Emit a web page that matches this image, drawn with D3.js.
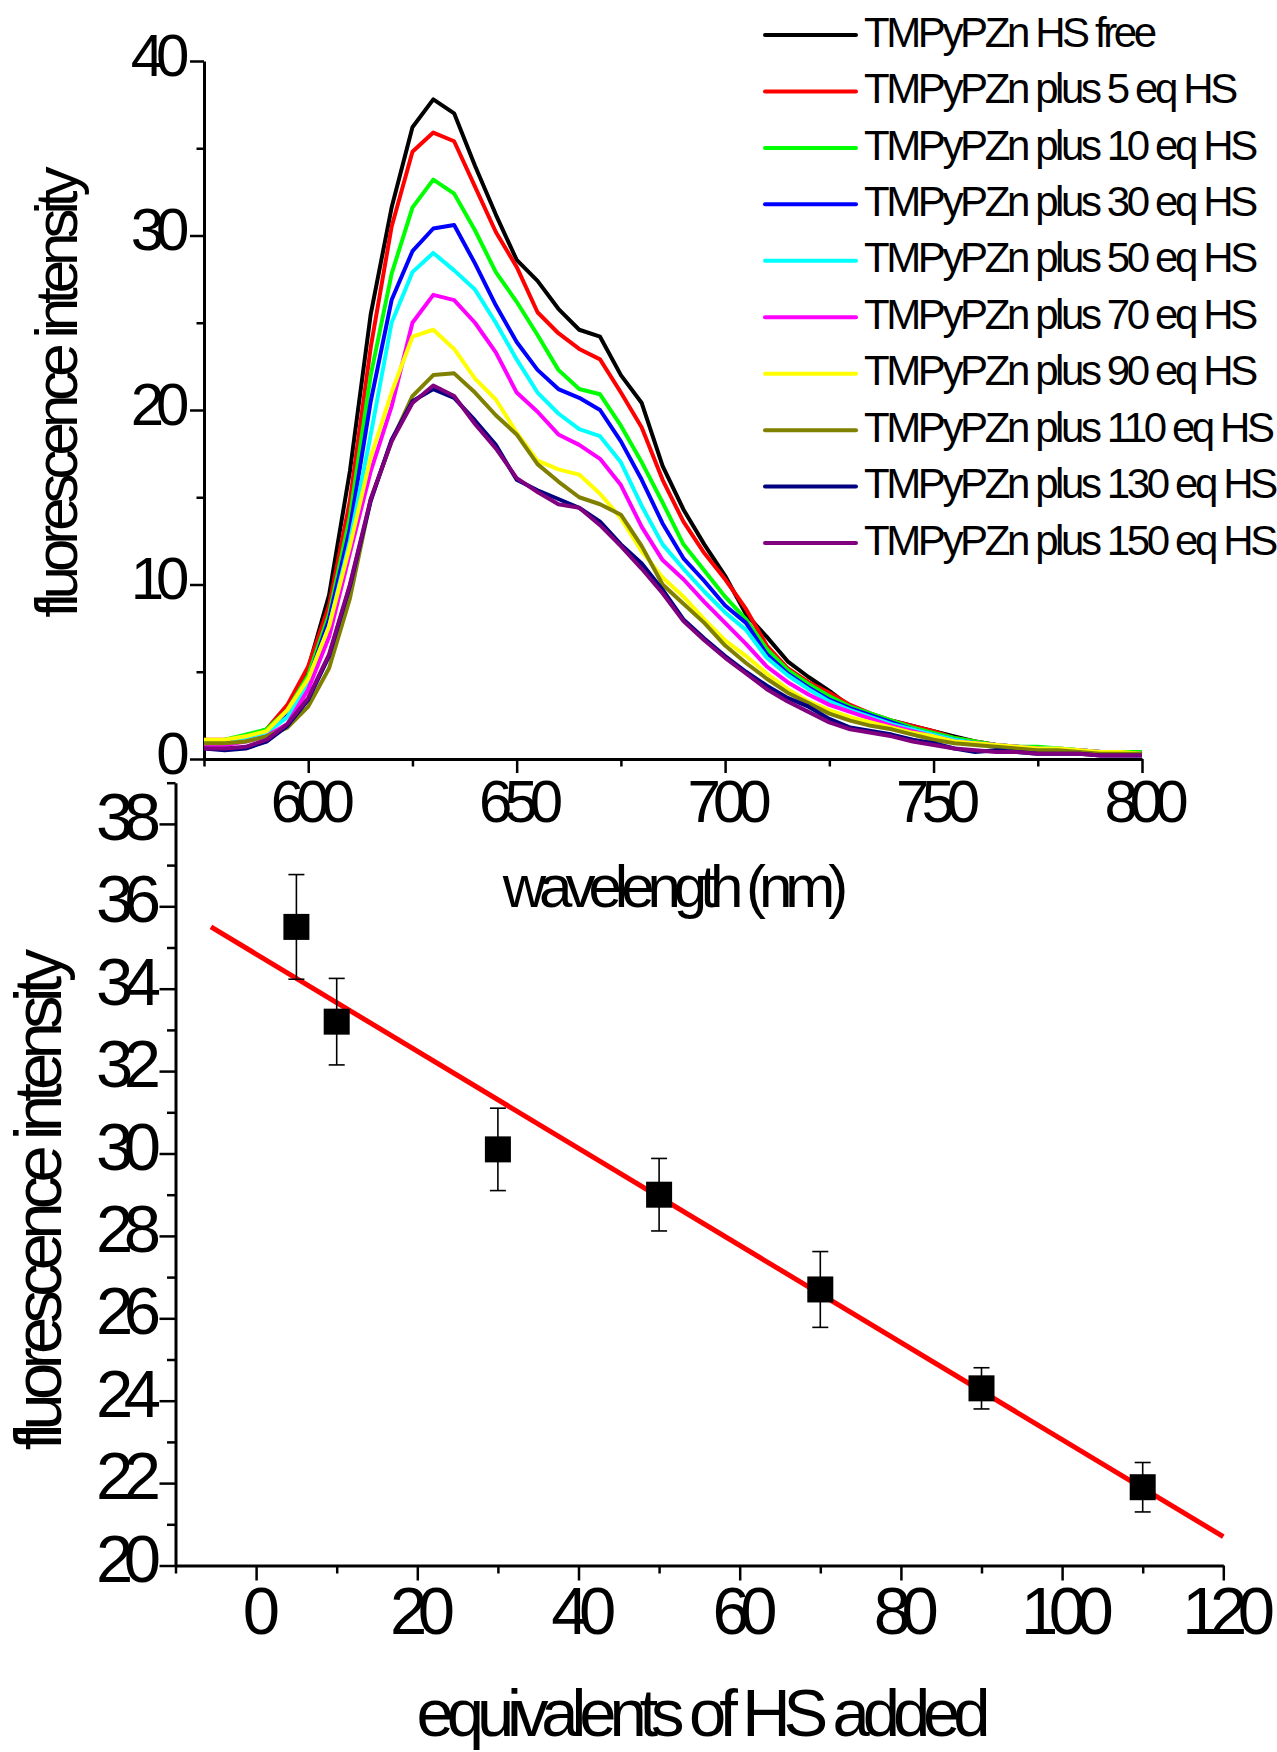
<!DOCTYPE html>
<html>
<head>
<meta charset="utf-8">
<title>TMPyPZn fluorescence quenching by HS</title>
<script src="https://cdn.jsdelivr.net/npm/d3@7"></script>
<style>
body { margin: 0; background: #fff; }
svg { display: block; background: #fff; }
</style>
</head>
<body>
<div id="chart"></div>
<script>

// ---- top panel: emission spectra (every 5 nm) ----
var wavelength = [575,580,585,590,595,600,605,610,615,620,625,630,635,640,645,650,655,660,665,670,675,680,685,690,695,700,705,710,715,720,725,730,735,740,745,750,755,760,765,770,775,780,785,790,795,800];

var hsFree = [1.0,1.0,1.2,1.6,2.9,5.2,9.4,16.5,25.5,31.6,36.2,37.8,37.0,34.0,31.2,28.6,27.4,25.8,24.6,24.2,22.0,20.4,16.8,14.3,12.3,10.5,8.3,7.0,5.6,4.7,3.9,3.0,2.4,2.2,1.9,1.6,1.3,1.0,0.8,0.7,0.6,0.5,0.5,0.4,0.4,0.3];
var eq5    = [1.1,1.1,1.3,1.7,3.1,5.3,8.8,14.8,23.6,30.5,34.8,35.9,35.4,32.8,30.2,28.2,25.6,24.4,23.5,22.9,21.0,19.0,16.0,13.6,11.8,10.3,8.6,6.5,5.2,4.4,3.8,3.1,2.6,2.2,1.9,1.6,1.2,1.0,0.8,0.7,0.6,0.6,0.5,0.4,0.4,0.3];
var eq10   = [1.0,1.1,1.4,1.7,2.8,4.8,8.3,13.9,22.0,27.8,31.6,33.2,32.4,30.3,27.9,26.2,24.3,22.3,21.2,20.9,19.1,17.0,14.7,12.3,10.8,9.3,8.0,6.3,5.1,4.3,3.6,3.0,2.6,2.2,1.8,1.5,1.2,1.0,0.8,0.7,0.7,0.6,0.5,0.4,0.4,0.4];
var eq30   = [0.8,0.8,1.1,1.5,2.5,4.5,8.0,13.2,20.5,26.3,29.1,30.4,30.6,28.4,26.0,23.9,22.3,21.2,20.7,20.0,18.2,16.0,13.5,11.5,10.2,8.8,7.8,6.0,4.9,4.1,3.4,2.9,2.5,2.1,1.7,1.4,1.1,0.9,0.8,0.6,0.6,0.5,0.4,0.4,0.3,0.3];
var eq50   = [0.9,0.9,1.1,1.5,2.4,4.4,7.6,12.5,18.6,25.0,27.9,29.0,28.0,26.9,25.0,22.9,21.0,19.8,18.9,18.5,17.0,14.5,12.3,10.9,9.6,8.4,7.4,5.8,4.8,4.0,3.3,2.8,2.4,2.0,1.7,1.4,1.1,0.9,0.8,0.7,0.6,0.6,0.5,0.4,0.3,0.3];
var eq70   = [0.8,0.8,1.0,1.3,2.0,4.0,7.0,11.8,16.5,20.2,25.0,26.6,26.3,25.0,23.3,21.0,19.9,18.6,18.0,17.2,15.7,13.3,11.4,10.3,9.0,7.8,6.6,5.3,4.4,3.7,3.1,2.7,2.3,1.9,1.6,1.3,1.0,0.9,0.8,0.7,0.6,0.5,0.5,0.4,0.3,0.3];
var eq90   = [1.1,1.1,1.3,1.6,2.8,4.6,7.6,12.2,17.3,21.0,24.2,24.6,23.5,21.8,20.6,18.7,17.1,16.6,16.3,15.2,13.8,11.9,10.4,9.3,8.0,6.8,5.9,4.9,4.0,3.3,2.8,2.4,2.1,1.8,1.5,1.3,1.0,0.9,0.8,0.7,0.6,0.6,0.5,0.4,0.4,0.3];
var eq110  = [0.9,0.9,1.0,1.3,1.8,3.0,5.2,9.2,14.9,18.2,20.8,22.0,22.1,21.0,19.7,18.6,16.9,15.9,15.0,14.6,14.0,12.2,10.0,8.9,7.8,6.5,5.5,4.6,3.8,3.2,2.6,2.2,1.9,1.7,1.4,1.1,0.9,0.8,0.7,0.6,0.5,0.5,0.4,0.3,0.3,0.3];
var eq130  = [0.6,0.5,0.6,1.0,1.9,3.4,5.9,9.9,14.8,18.3,20.5,21.2,20.7,19.4,18.0,16.0,15.4,14.9,14.4,13.6,12.3,11.2,9.7,8.0,6.9,5.9,5.0,4.2,3.5,3.0,2.3,1.8,1.6,1.4,1.1,0.9,0.6,0.4,0.5,0.4,0.3,0.3,0.3,0.2,0.2,0.2];
var eq150  = [0.6,0.6,0.7,1.1,2.0,3.5,6.0,10.0,14.9,18.2,20.4,21.4,20.8,19.2,17.8,16.1,15.3,14.6,14.4,13.4,12.2,10.9,9.5,7.9,6.8,5.8,4.9,4.0,3.3,2.7,2.1,1.7,1.5,1.3,1.0,0.8,0.6,0.5,0.4,0.4,0.3,0.3,0.3,0.2,0.2,0.2];

var seriesNames = ["TMPyPZn HS free", "TMPyPZn plus 5 eq HS", "TMPyPZn plus 10 eq HS", "TMPyPZn plus 30 eq HS",
                   "TMPyPZn plus 50 eq HS", "TMPyPZn plus 70 eq HS", "TMPyPZn plus 90 eq HS", "TMPyPZn plus 110 eq HS",
                   "TMPyPZn plus 130 eq HS", "TMPyPZn plus 150 eq HS"];
var seriesColors = ["#000000", "#ff0000", "#00ff00", "#0000ff", "#00ffff", "#ff00ff", "#ffff00", "#808000", "#000080", "#800080"];
var spectra = [hsFree, eq5, eq10, eq30, eq50, eq70, eq90, eq110, eq130, eq150];

var topXTicks = [600, 650, 700, 750, 800];
var topXMinor = [575, 625, 675, 725, 775];
var topYTicks = [0, 10, 20, 30, 40];
var topYMinor = [5, 15, 25, 35];

// ---- bottom panel: intensity vs equivalents ----
var hsEquiv     = [5, 10, 30, 50, 70, 90, 110];
var hsIntensity = [35.5, 33.2, 30.1, 29.0, 26.7, 24.3, 21.9];
var hsError     = [1.27, 1.05, 1.0, 0.88, 0.92, 0.5, 0.6];
var fitX = [-5.6, 120];
var fitY = [35.5, 20.7];

var botXTicks = [0, 20, 40, 60, 80, 100, 120];
var botXMinor = [-10, 10, 30, 50, 70, 90, 110];
var botYTicks = [20, 22, 24, 26, 28, 30, 32, 34, 36, 38];
var botYMinor = [21, 23, 25, 27, 29, 31, 33, 35, 37, 39];

var font = "'Liberation Sans', Arial, sans-serif";

var width = 1277,
    height = 1752;

var svg = d3.select("#chart")
  .append("svg")
  .attr("width", width)
  .attr("height", height)
  .attr("font-family", font);

// scales
var x1 = d3.scaleLinear().domain([575, 800]).range([204, 1142]);
var y1 = d3.scaleLinear().domain([0, 40]).range([759, 61]);
var x2 = d3.scaleLinear().domain([-10, 120]).range([175.5, 1223.3]);
var y2 = d3.scaleLinear().domain([20, 39]).range([1565.5, 782.7]);

// little helper so both panels get the same Origin-ish axis look
function styleAxis(g, fontSize, spacing) {
  g.attr("font-family", font).attr("font-size", null);
  g.select(".domain").attr("stroke", "#000").attr("stroke-width", 3);
  g.selectAll(".tick line").attr("stroke", "#000").attr("stroke-width", 2.5);
  g.selectAll(".tick text")
    .attr("fill", "#000")
    .attr("font-size", fontSize)
    .attr("letter-spacing", spacing);
}

function minorAxis(axis, tr) {
  var g = svg.append("g").attr("transform", tr).call(axis.tickFormat(""));
  g.select(".domain").remove();
  g.selectAll(".tick line").attr("stroke", "#000").attr("stroke-width", 2.5);
}

// ================= top panel =================
minorAxis(d3.axisLeft(y1).tickValues(topYMinor).tickSize(7.5), "translate(204,0)");
minorAxis(d3.axisBottom(x1).tickValues(topXMinor).tickSize(7.5), "translate(0,759)");

var gy1 = svg.append("g")
  .attr("transform", "translate(204,0)")
  .call(d3.axisLeft(y1).tickValues(topYTicks).tickSize(14).tickSizeOuter(0).tickPadding(8.5));
styleAxis(gy1, 60, -8);
gy1.selectAll(".tick text").attr("dy", 14);

var gx1 = svg.append("g")
  .attr("transform", "translate(0,759)")
  .call(d3.axisBottom(x1).tickValues(topXTicks).tickSize(14).tickSizeOuter(0));
styleAxis(gx1, 60, -8);
gx1.selectAll(".tick text").attr("y", 63).attr("dy", 0);

var line1 = d3.line()
  .x(function(d, i) { return x1(wavelength[i]); })
  .y(function(d) { return y1(d); });

svg.append("g")
  .selectAll("path")
  .data(spectra)
  .enter().append("path")
  .attr("d", line1)
  .attr("fill", "none")
  .attr("stroke", function(d, i) { return seriesColors[i]; })
  .attr("stroke-width", 4)
  .attr("stroke-linejoin", "round");

// legend
var legend = svg.append("g")
  .selectAll("g")
  .data(seriesNames)
  .enter().append("g")
  .attr("transform", function(d, i) { return "translate(0," + (i * 56.45) + ")"; });

legend.append("line")
  .attr("x1", 765).attr("x2", 856)
  .attr("y1", 35).attr("y2", 35)
  .attr("stroke", function(d, i) { return seriesColors[i]; })
  .attr("stroke-width", 4)
  .attr("stroke-linecap", "round");

legend.append("text")
  .attr("x", 864)
  .attr("y", 46.7)
  .attr("font-size", 42)
  .attr("letter-spacing", -3.4)
  .attr("fill", "#000")
  .text(function(d) { return d; });

// axis titles
svg.append("text")
  .attr("transform", "translate(77,395) rotate(-90)")
  .attr("text-anchor", "middle")
  .attr("font-size", 60)
  .attr("letter-spacing", -6)
  .text("fluorescence intensity");

svg.append("text")
  .attr("x", 672)
  .attr("y", 907)
  .attr("text-anchor", "middle")
  .attr("font-size", 60)
  .attr("letter-spacing", -7)
  .text("wavelength (nm)");

// ================= bottom panel =================
minorAxis(d3.axisLeft(y2).tickValues(botYMinor).tickSize(8.5), "translate(175.5,0)");
minorAxis(d3.axisBottom(x2).tickValues(botXMinor).tickSize(8), "translate(0,1565.5)");

var gy2 = svg.append("g")
  .attr("transform", "translate(175.5,0)")
  .call(d3.axisLeft(y2).tickValues(botYTicks).tickSize(16).tickSizeOuter(0).tickPadding(8));
styleAxis(gy2, 67, -9.5);
gy2.selectAll(".tick text").attr("dy", 15.5);

var gx2 = svg.append("g")
  .attr("transform", "translate(0,1565.5)")
  .call(d3.axisBottom(x2).tickValues(botXTicks).tickSize(15).tickSizeOuter(0));
styleAxis(gx2, 67, -9.5);
gx2.selectAll(".tick text").attr("y", 68).attr("dy", 0);

// linear fit
var fitLine = d3.line()
  .x(function(d, i) { return x2(fitX[i]); })
  .y(function(d) { return y2(d); });

svg.append("path")
  .datum(fitY)
  .attr("d", fitLine)
  .attr("fill", "none")
  .attr("stroke", "#ff0000")
  .attr("stroke-width", 5);

// error bars + squares
var pts = svg.append("g")
  .selectAll("g")
  .data(hsEquiv)
  .enter().append("g");

pts.append("line")
  .attr("x1", function(d) { return x2(d); })
  .attr("x2", function(d) { return x2(d); })
  .attr("y1", function(d, i) { return y2(hsIntensity[i] + hsError[i]); })
  .attr("y2", function(d, i) { return y2(hsIntensity[i] - hsError[i]); })
  .attr("stroke", "#000").attr("stroke-width", 1.6);

pts.selectAll("line.cap")
  .data(function(d, i) { return [[d, hsIntensity[i] + hsError[i]], [d, hsIntensity[i] - hsError[i]]]; })
  .enter().append("line")
  .attr("class", "cap")
  .attr("x1", function(d) { return x2(d[0]) - 8; })
  .attr("x2", function(d) { return x2(d[0]) + 8; })
  .attr("y1", function(d) { return y2(d[1]); })
  .attr("y2", function(d) { return y2(d[1]); })
  .attr("stroke", "#000").attr("stroke-width", 1.6);

pts.append("rect")
  .attr("x", function(d) { return x2(d) - 13; })
  .attr("y", function(d, i) { return y2(hsIntensity[i]) - 13; })
  .attr("width", 26)
  .attr("height", 26)
  .attr("fill", "#000");

svg.append("text")
  .attr("transform", "translate(61,1203) rotate(-90)")
  .attr("text-anchor", "middle")
  .attr("font-size", 67)
  .attr("letter-spacing", -6.8)
  .text("fluorescence intensity");

svg.append("text")
  .attr("x", 700)
  .attr("y", 1736)
  .attr("text-anchor", "middle")
  .attr("font-size", 67)
  .attr("letter-spacing", -7.1)
  .text("equivalents of HS added");

</script>
</body>
</html>
